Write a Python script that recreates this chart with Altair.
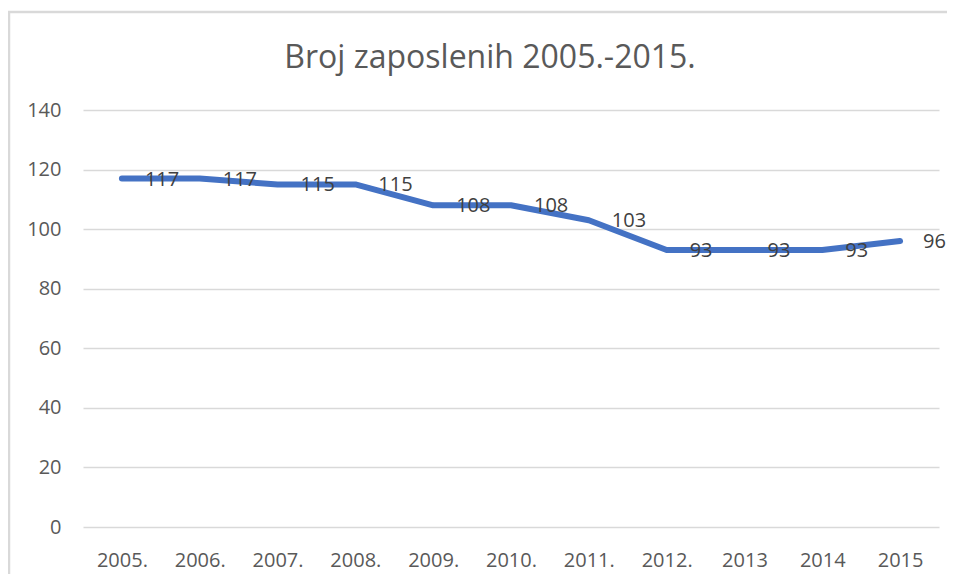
import altair as alt
import pandas as pd

years = ["2005.", "2006.", "2007.", "2008.", "2009.", "2010.", "2011.", "2012.", "2013", "2014", "2015"]
employees = [117, 117, 115, 115, 108, 108, 103, 93, 93, 93, 96]
y_ticks = [0, 20, 40, 60, 80, 100, 120, 140]
title_text = "Broj zaposlenih 2005.-2015."

df = pd.DataFrame({"year": years, "value": employees})
tdf = pd.DataFrame({"t": [title_text]})

FONT = "Open Sans"
GREY = "#595959"
FRAME = "#d9d9d9"

x_enc = alt.X("year:N", sort=years,
              axis=alt.Axis(title=None, labelAngle=0, ticks=False, tickSize=0, domain=False,
                            labelPadding=23, labelFontSize=20, labelColor=GREY, labelFont=FONT,
                            grid=False))
y_enc = alt.Y("value:Q", scale=alt.Scale(domain=[0, 140], nice=False),
              axis=alt.Axis(title=None, values=y_ticks, ticks=False, tickSize=0, domain=False,
                            labelPadding=22, labelFontSize=20, labelColor=GREY, labelFont=FONT,
                            grid=True, gridColor="#d9d9d9", gridWidth=1.5))

frame_left = alt.Chart(tdf).mark_rule(color=FRAME, strokeWidth=2.5).encode(
    x=alt.value(-74), y=alt.value(-99), y2=alt.value(520)
)
frame_top = alt.Chart(tdf).mark_rule(color=FRAME, strokeWidth=2.5).encode(
    x=alt.value(-75), x2=alt.value(900), y=alt.value(-98)
)

line = alt.Chart(df).mark_line(color="#4472C4", strokeWidth=6, strokeCap="round",
                               strokeJoin="round").encode(x=x_enc, y=y_enc)

labels = alt.Chart(df).mark_text(align="left", baseline="middle", dx=23, dy=1,
                                 fontSize=20, font=FONT, color="#404040").encode(
    x=alt.X("year:N", sort=years), y="value:Q", text="value:Q"
)

title = alt.Chart(tdf).mark_text(align="center", baseline="alphabetic", fontSize=32,
                                 font=FONT, color=GREY).encode(
    text="t:N", x=alt.value(407), y=alt.value(-42)
)

chart = alt.layer(frame_left, frame_top, line, labels, title).properties(
    width=856, height=417,
    background="white",
    autosize=alt.AutoSizeParams(type="none"),
    padding={"left": 75, "top": 102, "right": 8, "bottom": 47},
).configure_view(strokeWidth=0, stroke="transparent")

chart.save("out.html", embed_options={"renderer": "svg", "actions": False})
